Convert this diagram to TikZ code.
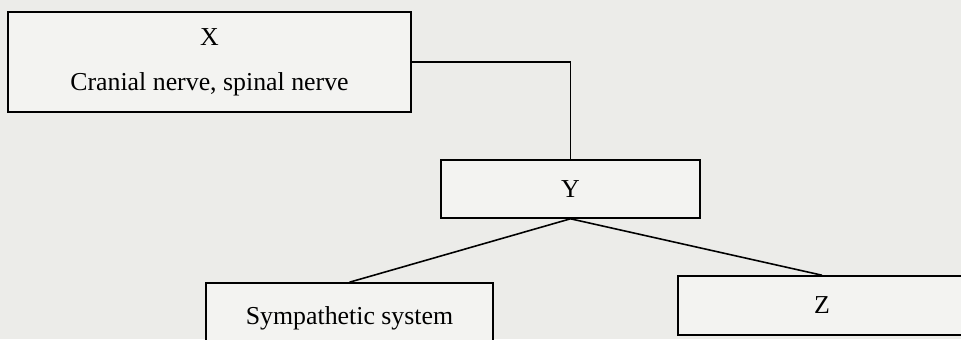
\documentclass[tikz,border=0pt]{standalone}
\usepackage{fontspec}
\setmainfont{Liberation Serif}
\definecolor{paper}{RGB}{236,236,233}
\definecolor{boxfill}{RGB}{243,243,241}
\begin{document}
\begin{tikzpicture}[
    box/.style={rectangle, draw, line width=0.9pt, fill=boxfill, align=center, inner sep=0pt, font=\fontsize{14.7}{25.6}\selectfont},
    link/.style={line width=0.9pt},
]
    % page
    \useasboundingbox (0,0) rectangle (19.22,-6.78);
    \clip (0,0) rectangle (19.22,-6.78);
    \fill[paper] (0,0) rectangle (19.22,-6.78);

    % boxes
    \node[box, minimum width=8.06cm, minimum height=2cm] (xbox) at (4.19,-1.24) {X\\Cranial nerve, spinal nerve};
    \node[box, minimum width=5.18cm, minimum height=1.16cm] (ybox) at (11.41,-3.78) {Y};
    \node[box, minimum width=5.74cm, minimum height=1.4cm] (symp) at (6.99,-6.36) {Sympathetic system};
    \node[box, minimum width=5.76cm, minimum height=1.18cm] (zbox) at (16.44,-6.11) {Z};

    % connectors
    \draw[link] (xbox.east) -| (ybox.north);
    \draw[link] (ybox.south) -- (symp.north);
    \draw[link] (ybox.south) -- (zbox.north);
\end{tikzpicture}
\end{document}
